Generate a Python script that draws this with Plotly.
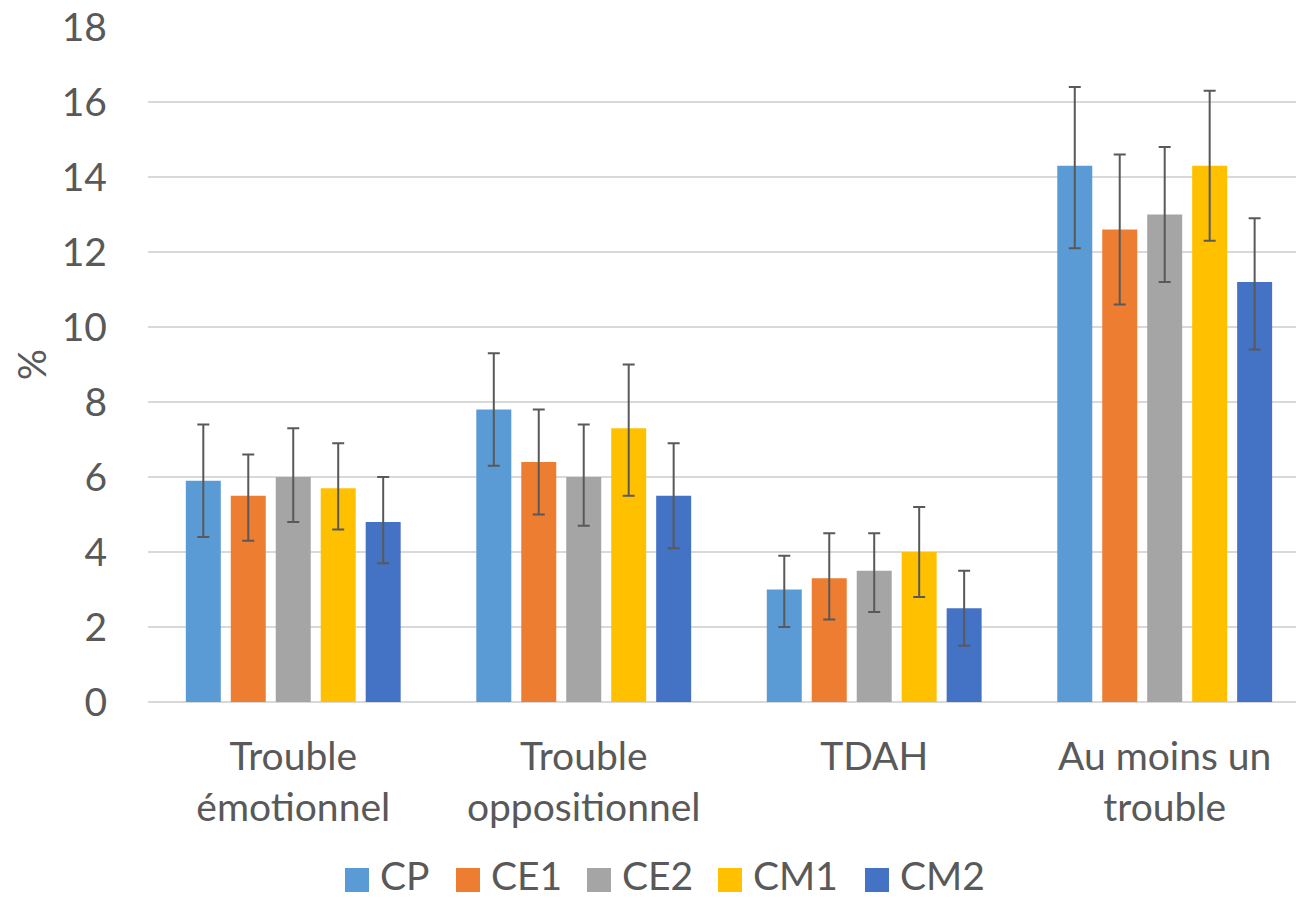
import plotly.graph_objects as go

categories = ["Trouble<br>émotionnel", "Trouble<br>oppositionnel", "TDAH", "Au moins un<br>trouble"]
series_names = ["CP", "CE1", "CE2", "CM1", "CM2"]
colors = ["#5B9BD5", "#ED7D31", "#A5A5A5", "#FFC000", "#4472C4"]

cp = [5.9, 7.8, 3.0, 14.3]
ce1 = [5.5, 6.4, 3.3, 12.6]
ce2 = [6.0, 6.0, 3.5, 13.0]
cm1 = [5.7, 7.3, 4.0, 14.3]
cm2 = [4.8, 5.5, 2.5, 11.2]

cp_hi = [7.4, 9.3, 3.9, 16.4]
ce1_hi = [6.6, 7.8, 4.5, 14.6]
ce2_hi = [7.3, 7.4, 4.5, 14.8]
cm1_hi = [6.9, 9.0, 5.2, 16.3]
cm2_hi = [6.0, 6.9, 3.5, 12.9]

cp_lo = [4.4, 6.3, 2.0, 12.1]
ce1_lo = [4.3, 5.0, 2.2, 10.6]
ce2_lo = [4.8, 4.7, 2.4, 11.2]
cm1_lo = [4.6, 5.5, 2.8, 12.3]
cm2_lo = [3.7, 4.1, 1.5, 9.4]

values = [cp, ce1, ce2, cm1, cm2]
highs = [cp_hi, ce1_hi, ce2_hi, cm1_hi, cm2_hi]
lows = [cp_lo, ce1_lo, ce2_lo, cm1_lo, cm2_lo]

FONT = "Lato"
TXT = "#595959"
FS = 39

W, H = 1296, 898
ML, MR, MT, MB = 148, 0, 27, 196
PW, PH = W - ML - MR, H - MT - MB

fig = go.Figure()
for name, col, v, hi, lo in zip(series_names, colors, values, highs, lows):
    fig.add_trace(go.Bar(
        name=name, x=categories, y=v, showlegend=False,
        marker=dict(color=col, line=dict(width=0)),
        error_y=dict(
            type="data", symmetric=False,
            array=[h - a for h, a in zip(hi, v)],
            arrayminus=[a - l for a, l in zip(v, lo)],
            color="#595959", thickness=2, width=6,
        ),
    ))

# custom legend (larger square swatches, like the reference)
legend_left_px = [345, 456, 587, 718, 865]
SW = 24
legend_cy_px = 880
legend_text_cy_px = 875
shapes = []
annotations = []
for name, col, lx in zip(series_names, colors, legend_left_px):
    shapes.append(dict(
        type="rect", xref="paper", yref="paper",
        x0=(lx - ML) / PW, x1=(lx + SW - ML) / PW,
        y0=(MT + PH - (legend_cy_px + SW / 2)) / PH, y1=(MT + PH - (legend_cy_px - SW / 2)) / PH,
        fillcolor=col, line=dict(width=0),
    ))
    annotations.append(dict(
        text=name, xref="paper", yref="paper", showarrow=False,
        x=(lx + 33 - ML) / PW, xanchor="left",
        y=(MT + PH - legend_text_cy_px) / PH, yanchor="middle",
        font=dict(size=FS, color=TXT, family=FONT),
    ))

fig.update_layout(
    width=W, height=H,
    margin=dict(l=ML, r=MR, t=MT, b=MB, autoexpand=False),
    paper_bgcolor="white", plot_bgcolor="white",
    barmode="group", bargap=0.226, bargroupgap=0.222,
    font=dict(family=FONT, size=FS, color=TXT),
    showlegend=False,
    shapes=shapes,
    annotations=annotations,
    xaxis=dict(range=[-0.5, 3.452], showgrid=False, showline=False, ticks="",
               automargin=False, ticklabelstandoff=28,
               tickfont=dict(size=FS, color=TXT, family=FONT)),
    yaxis=dict(range=[0, 18], dtick=2, showgrid=True, gridcolor="#D9D9D9", gridwidth=1.5,
               zeroline=True, zerolinecolor="#D9D9D9", zerolinewidth=1.5,
               showline=False, ticks="", ticklabelstandoff=40, automargin=False,
               tickfont=dict(size=FS, color=TXT, family=FONT),
               title=dict(text="%", font=dict(size=FS, color=TXT, family=FONT), standoff=3)),
)

fig.write_html("out.html", config={"displayModeBar": False},
               post_script="document.body.style.margin='0';document.body.style.overflow='hidden';")
